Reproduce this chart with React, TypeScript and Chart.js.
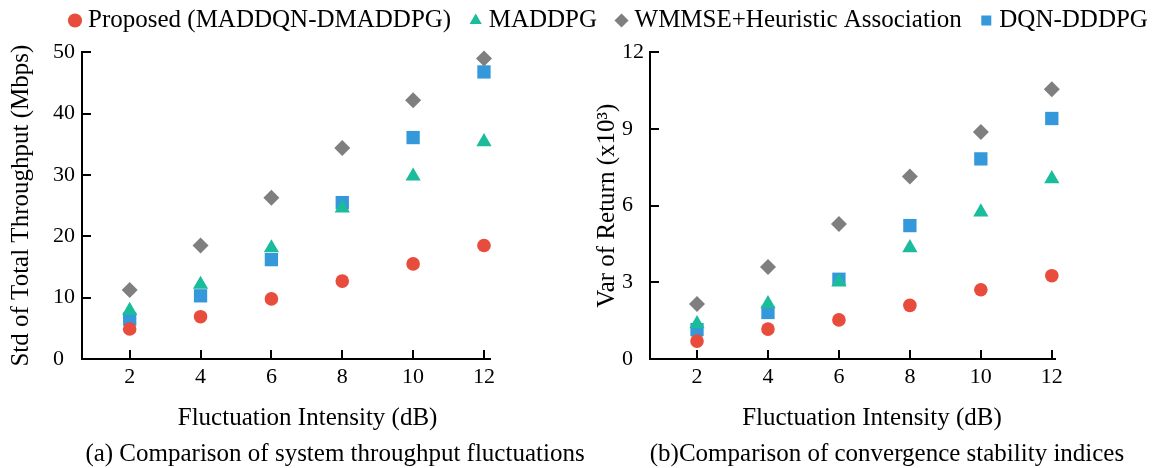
import React, { useEffect, useRef } from "react";
import { Chart, registerables } from "chart.js";

Chart.register(...registerables);

// ---------- data ----------
const xValues = [2, 4, 6, 8, 10, 12];
const seriesLabels = [
  "Proposed (MADDQN-DMADDPG)",
  "MADDPG",
  "WMMSE+Heuristic Association",
  "DQN-DDDPG",
];
// (a) Std of total throughput (Mbps)
const stdProposed = [4.9, 6.9, 9.8, 12.7, 15.5, 18.5];
const stdMADDPG = [7.9, 12.15, 18.1, 24.6, 29.8, 35.4];
const stdWMMSE = [11.25, 18.5, 26.3, 34.4, 42.2, 49.0];
const stdDQN = [6.5, 10.3, 16.2, 25.5, 36.1, 46.8];
// (b) Var of return (x10^3)
const varProposed = [0.7, 1.17, 1.53, 2.1, 2.71, 3.26];
const varMADDPG = [1.38, 2.16, 3.01, 4.35, 5.75, 7.05];
const varWMMSE = [2.15, 3.6, 5.28, 7.14, 8.88, 10.55];
const varDQN = [1.15, 1.82, 3.12, 5.22, 7.83, 9.41];

const xTitle = "Fluctuation Intensity (dB)";
const leftYTitle = "Std of Total Throughput (Mbps)";
const rightYTitle = "Var of Return (x10³)";
const captionA = "(a) Comparison of system throughput fluctuations";
const captionB = "(b)Comparison of convergence stability indices";

// ---------- styles ----------
const FONT = "'Liberation Serif', 'Times New Roman', serif";
const seriesStyles = [
  { color: "#E74C3C", pointStyle: "circle", radius: 6.8 },
  { color: "#1ABC9C", pointStyle: "triangle", radius: 8.8 },
  { color: "#7F7F7F", pointStyle: "rectRot", radius: 8 },
  { color: "#3498DB", pointStyle: "rect", radius: 9.4 },
];

function makeDatasets(series: number[][]) {
  return series.map((vals, i) => {
    const s = seriesStyles[i];
    return {
      label: seriesLabels[i],
      data: xValues.map((x, j) => ({ x, y: vals[j] })),
      pointStyle: s.pointStyle as any,
      pointRadius: s.radius,
      pointHoverRadius: s.radius,
      backgroundColor: s.color,
      borderColor: s.color,
      pointBackgroundColor: s.color,
      pointBorderColor: s.color,
      borderWidth: 0,
      pointBorderWidth: 0,
      showLine: false,
      clip: false as any,
    };
  });
}

type PanelProps = {
  left: number;
  width: number;
  series: number[][];
  yMax: number;
  yStep: number;
  xMin: number;
  xMax: number;
  yTitle: string;
  yAxisWidth: number;
  yTitlePad: number;
  yLabelPad: number;
  padRight: number;
};

function ScatterPanel(p: PanelProps) {
  const ref = useRef<HTMLCanvasElement | null>(null);
  useEffect(() => {
    if (!ref.current) return;
    const axisGrid = {
      display: true,
      drawOnChartArea: false,
      drawTicks: true,
      tickLength: -9,
      color: "#000",
      lineWidth: 2,
    };
    const axisBorder = { display: true, color: "#000", width: 2 };
    const chart = new Chart(ref.current, {
      type: "scatter",
      data: { datasets: makeDatasets(p.series) as any },
      options: {
        responsive: false,
        animation: false,
        devicePixelRatio: 1,
        events: [],
        layout: { padding: { top: 52.3, right: p.padRight, bottom: 0, left: 0 } },
        plugins: { legend: { display: false }, tooltip: { enabled: false } },
        scales: {
          x: {
            type: "linear",
            min: p.xMin,
            max: p.xMax,
            afterBuildTicks: (axis: any) => {
              axis.ticks = xValues.map((v) => ({ value: v }));
            },
            afterFit: (s: any) => {
              s.height = 109;
            },
            grid: axisGrid as any,
            border: axisBorder as any,
            ticks: {
              padding: 14,
              font: { family: FONT, size: 22 },
              color: "#000",
              maxRotation: 0,
              autoSkip: false,
            },
          },
          y: {
            type: "linear",
            min: 0,
            max: p.yMax,
            afterFit: (s: any) => {
              s.width = p.yAxisWidth;
            },
            grid: axisGrid as any,
            border: axisBorder as any,
            ticks: {
              stepSize: p.yStep,
              padding: p.yLabelPad,
              font: { family: FONT, size: 22 },
              color: "#000",
              callback: (v: any) => (String(v).length === 1 ? String(v) + "  " : String(v)),
            },
            title: {
              display: true,
              text: p.yTitle,
              font: { family: FONT, size: 25 },
              color: "#000",
              padding: { top: p.yTitlePad, bottom: 0 },
            },
          },
        },
      } as any,
    });
    return () => chart.destroy();
  }, []);
  return (
    <canvas
      ref={ref}
      width={p.width}
      height={468}
      style={{ position: "absolute", left: p.left, top: 0, width: p.width, height: 468 }}
    />
  );
}

function LegendStrip() {
  const ref = useRef<HTMLCanvasElement | null>(null);
  useEffect(() => {
    if (!ref.current) return;
    const chart = new Chart(ref.current, {
      type: "scatter",
      data: {
        datasets: seriesStyles.map((s, i) => ({
          label: seriesLabels[i],
          data: [],
          pointStyle: s.pointStyle as any,
          backgroundColor: s.color,
          borderColor: s.color,
          pointBackgroundColor: s.color,
          pointBorderColor: s.color,
          borderWidth: 0,
          pointBorderWidth: 0,
        })) as any,
      },
      options: {
        responsive: false,
        animation: false,
        devicePixelRatio: 1,
        events: [],
        layout: { padding: { left: 50.5, top: 0, right: 0, bottom: 0 } },
        scales: { x: { display: false }, y: { display: false } },
        plugins: {
          tooltip: { enabled: false },
          legend: {
            display: true,
            position: "top",
            align: "start",
            labels: {
              usePointStyle: true,
              boxWidth: 1,
              boxHeight: 10,
              padding: 24,
              color: "#000",
              font: { family: FONT, size: 25 },
            },
          },
        },
      } as any,
    });
    return () => chart.destroy();
  }, []);
  return (
    <canvas
      ref={ref}
      width={1300}
      height={160}
      style={{ position: "absolute", left: 0, top: -16.5, width: 1300, height: 160 }}
    />
  );
}

function TextLine({ text, center, top }: { text: string; center: number; top: number }) {
  return (
    <div
      style={{
        position: "absolute",
        left: center - 300,
        width: 600,
        top,
        textAlign: "center",
        whiteSpace: "nowrap",
        fontFamily: FONT,
        fontSize: 25,
        lineHeight: "30px",
        color: "#000",
      }}
    >
      {text}
    </div>
  );
}

export default function App() {
  return (
    <div
      style={{
        position: "fixed",
        left: 0,
        top: 0,
        width: 1155,
        height: 468,
        overflow: "hidden",
        background: "#fff",
      }}
    >
      <ScatterPanel
        left={0}
        width={577}
        series={[stdProposed, stdMADDPG, stdWMMSE, stdDQN]}
        yMax={50}
        yStep={10}
        xMin={0.654}
        xMax={12.17}
        yTitle={leftYTitle}
        yAxisWidth={82}
        yTitlePad={6}
        yLabelPad={16}
        padRight={87}
      />
      <ScatterPanel
        left={577}
        width={578}
        series={[varProposed, varMADDPG, varWMMSE, varDQN]}
        yMax={12}
        yStep={3}
        xMin={0.675}
        xMax={12.09}
        yTitle={rightYTitle}
        yAxisWidth={73}
        yTitlePad={15}
        yLabelPad={15}
        padRight={100}
      />
      <LegendStrip />
      <TextLine text={xTitle} center={307.6} top={402} />
      <TextLine text={xTitle} center={872} top={402} />
      <TextLine text={captionA} center={335} top={438} />
      <TextLine text={captionB} center={887} top={438} />
    </div>
  );
}
